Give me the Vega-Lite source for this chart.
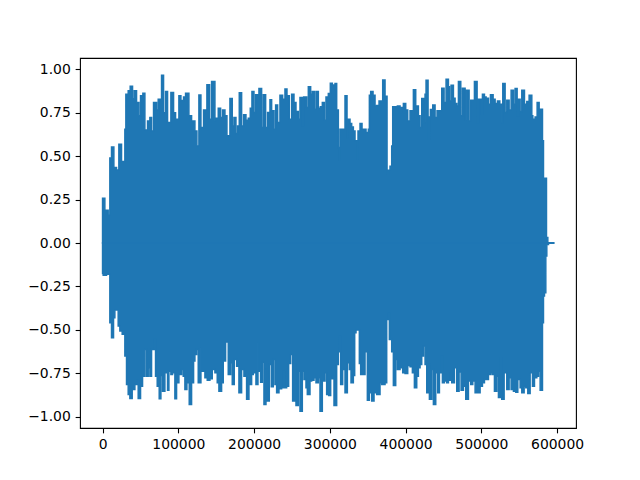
{
  "$schema": "https://vega.github.io/schema/vega-lite/v6.json",
  "autosize": "none",
  "padding": {"left": 80, "top": 58, "right": 64, "bottom": 52},
  "width": 496,
  "height": 370,
  "background": "white",
  "config": {
    "view": {"stroke": "black", "strokeWidth": 1.1},
    "axis": {
      "grid": false,
      "domain": false,
      "ticks": true,
      "tickColor": "black",
      "tickWidth": 1.1,
      "tickSize": 4.86,
      "labelPadding": 4.86,
      "labelFont": "DejaVu Sans",
      "labelFontSize": 13.9,
      "labelColor": "black",
      "title": null
    }
  },
  "datasets": {
    "top": [
      {"x": 0, "v": 0.258}, {"x": 3037, "v": 0.188}, {"x": 7440, "v": 0.16}, {"x": 9642, "v": 0.49}, {"x": 11843, "v": 0.553},
      {"x": 14925, "v": 0.434}, {"x": 18448, "v": 0.42}, {"x": 21530, "v": 0.569}, {"x": 25052, "v": 0.469}, {"x": 29455, "v": 0.655},
      {"x": 30776, "v": 0.857}, {"x": 33858, "v": 0.876}, {"x": 36500, "v": 0.903}, {"x": 39582, "v": 0.83}, {"x": 41784, "v": 0.876},
      {"x": 44866, "v": 0.809}, {"x": 47948, "v": 0.732}, {"x": 50149, "v": 0.847}, {"x": 53231, "v": 0.862}, {"x": 55873, "v": 0.65},
      {"x": 59395, "v": 0.703}, {"x": 62478, "v": 0.722}, {"x": 64679, "v": 0.645}, {"x": 67321, "v": 0.809}, {"x": 71284, "v": 0.765},
      {"x": 73485, "v": 0.828}, {"x": 76127, "v": 0.74}, {"x": 77888, "v": 0.965}, {"x": 80530, "v": 0.75}, {"x": 83172, "v": 0.872},
      {"x": 85813, "v": 0.693}, {"x": 90216, "v": 0.867}, {"x": 93739, "v": 0.75}, {"x": 96381, "v": 0.713}, {"x": 100784, "v": 0.847},
      {"x": 103426, "v": 0.82}, {"x": 106948, "v": 0.84}, {"x": 109590, "v": 0.862}, {"x": 113993, "v": 0.732}, {"x": 117515, "v": 0.703},
      {"x": 121918, "v": 0.645}, {"x": 124560, "v": 0.559}, {"x": 127202, "v": 0.852}, {"x": 129844, "v": 0.665}, {"x": 133366, "v": 0.765},
      {"x": 137769, "v": 0.911}, {"x": 141292, "v": 0.713}, {"x": 143933, "v": 0.93}, {"x": 148336, "v": 0.703}, {"x": 149669, "v": 0.718},
      {"x": 152751, "v": 0.776}, {"x": 155833, "v": 0.722}, {"x": 158475, "v": 0.765}, {"x": 161557, "v": 0.732}, {"x": 164199, "v": 0.617},
      {"x": 168162, "v": 0.832}, {"x": 171244, "v": 0.674}, {"x": 173445, "v": 0.722}, {"x": 176087, "v": 0.63}, {"x": 178288, "v": 0.674},
      {"x": 180490, "v": 0.865}, {"x": 183572, "v": 0.674}, {"x": 186214, "v": 0.738}, {"x": 189296, "v": 0.707}, {"x": 192378, "v": 0.718},
      {"x": 195020, "v": 0.776}, {"x": 197221, "v": 0.872}, {"x": 199863, "v": 0.751}, {"x": 202065, "v": 0.853}, {"x": 206468, "v": 0.89},
      {"x": 209990, "v": 0.665}, {"x": 212192, "v": 0.853}, {"x": 215274, "v": 0.665}, {"x": 217915, "v": 0.751}, {"x": 220998, "v": 0.824},
      {"x": 223199, "v": 0.761}, {"x": 226281, "v": 0.655}, {"x": 228483, "v": 0.795}, {"x": 231124, "v": 0.694}, {"x": 234207, "v": 0.851},
      {"x": 237729, "v": 0.828}, {"x": 240811, "v": 0.886}, {"x": 243453, "v": 0.847}, {"x": 246535, "v": 0.713}, {"x": 249617, "v": 0.857},
      {"x": 252699, "v": 0.809}, {"x": 255341, "v": 0.757}, {"x": 258423, "v": 0.713}, {"x": 260625, "v": 0.838}, {"x": 263707, "v": 0.674},
      {"x": 265468, "v": 0.841}, {"x": 269431, "v": 0.78}, {"x": 271632, "v": 0.899}, {"x": 274714, "v": 0.857}, {"x": 276916, "v": 0.872},
      {"x": 279557, "v": 0.77}, {"x": 281759, "v": 0.872}, {"x": 284841, "v": 0.776}, {"x": 287483, "v": 0.784}, {"x": 290125, "v": 0.809},
      {"x": 292766, "v": 0.707}, {"x": 294968, "v": 0.841}, {"x": 298050, "v": 0.861}, {"x": 300692, "v": 0.92}, {"x": 303334, "v": 0.88},
      {"x": 305095, "v": 0.91}, {"x": 306868, "v": 0.918}, {"x": 309070, "v": 0.765}, {"x": 311271, "v": 0.55}, {"x": 312592, "v": 0.477},
      {"x": 313473, "v": 0.655}, {"x": 320077, "v": 0.847}, {"x": 322719, "v": 0.607}, {"x": 323599, "v": 0.713}, {"x": 326682, "v": 0.688},
      {"x": 328883, "v": 0.668}, {"x": 331085, "v": 0.645}, {"x": 333286, "v": 0.588}, {"x": 336368, "v": 0.482}, {"x": 337249, "v": 0.645},
      {"x": 339891, "v": 0.688}, {"x": 342532, "v": 0.655}, {"x": 347816, "v": 0.636}, {"x": 350898, "v": 0.655}, {"x": 352219, "v": 0.851},
      {"x": 353980, "v": 0.872}, {"x": 357062, "v": 0.851}, {"x": 359704, "v": 0.788}, {"x": 361906, "v": 0.792}, {"x": 364988, "v": 0.818},
      {"x": 368510, "v": 0.809}, {"x": 369831, "v": 0.939}, {"x": 372913, "v": 0.845}, {"x": 375555, "v": 0.396}, {"x": 377316, "v": 0.419},
      {"x": 379518, "v": 0.442}, {"x": 381719, "v": 0.559}, {"x": 383040, "v": 0.784}, {"x": 387443, "v": 0.741}, {"x": 389204, "v": 0.788},
      {"x": 392727, "v": 0.751}, {"x": 394488, "v": 0.78}, {"x": 397130, "v": 0.803}, {"x": 400212, "v": 0.765}, {"x": 402853, "v": 0.703},
      {"x": 405936, "v": 0.761}, {"x": 409018, "v": 0.722}, {"x": 410339, "v": 0.882}, {"x": 413421, "v": 0.788}, {"x": 416943, "v": 0.732},
      {"x": 419145, "v": 0.665}, {"x": 421346, "v": 0.832}, {"x": 423988, "v": 0.694}, {"x": 425749, "v": 0.857}, {"x": 427070, "v": 0.937},
      {"x": 429712, "v": 0.597}, {"x": 431473, "v": 0.726}, {"x": 432794, "v": 0.768}, {"x": 435876, "v": 0.795}, {"x": 438958, "v": 0.722},
      {"x": 441600, "v": 0.761}, {"x": 447764, "v": 0.891}, {"x": 450846, "v": 0.809}, {"x": 453488, "v": 0.943}, {"x": 456570, "v": 0.899},
      {"x": 457891, "v": 0.818}, {"x": 460092, "v": 0.908}, {"x": 463174, "v": 0.834}, {"x": 465376, "v": 0.803}, {"x": 467590, "v": 0.788},
      {"x": 469791, "v": 0.93}, {"x": 472873, "v": 0.732}, {"x": 475075, "v": 0.891}, {"x": 478597, "v": 0.707}, {"x": 479918, "v": 0.88},
      {"x": 483881, "v": 0.703}, {"x": 486082, "v": 0.822}, {"x": 490925, "v": 0.93}, {"x": 494448, "v": 0.694}, {"x": 496209, "v": 0.828},
      {"x": 499732, "v": 0.741}, {"x": 501493, "v": 0.857}, {"x": 504134, "v": 0.841}, {"x": 506336, "v": 0.834}, {"x": 509418, "v": 0.799},
      {"x": 512060, "v": 0.853}, {"x": 515582, "v": 0.828}, {"x": 518224, "v": 0.803}, {"x": 521306, "v": 0.818}, {"x": 524388, "v": 0.799},
      {"x": 527030, "v": 0.694}, {"x": 528351, "v": 0.918}, {"x": 531433, "v": 0.751}, {"x": 533635, "v": 0.822}, {"x": 536717, "v": 0.765},
      {"x": 539358, "v": 0.88}, {"x": 542441, "v": 0.799}, {"x": 544642, "v": 0.89}, {"x": 547284, "v": 0.732}, {"x": 549045, "v": 0.828},
      {"x": 551247, "v": 0.757}, {"x": 553448, "v": 0.88}, {"x": 556970, "v": 0.799}, {"x": 560053, "v": 0.814}, {"x": 563135, "v": 0.851},
      {"x": 566657, "v": 0.732}, {"x": 567978, "v": 0.713}, {"x": 571060, "v": 0.726}, {"x": 573702, "v": 0.809}, {"x": 576344, "v": 0.77},
      {"x": 580747, "v": 0.588}, {"x": 582068, "v": 0.338}, {"x": 583389, "v": 0.373}, {"x": 586031, "v": 0.031}, {"x": 587792, "v": 0.001},
      {"x": 595500, "v": 0.001}
    ],
    "bot": [
      {"x": 0, "v": -0.175}, {"x": 836, "v": -0.186}, {"x": 5239, "v": -0.18}, {"x": 9642, "v": -0.459}, {"x": 11843, "v": -0.546},
      {"x": 14485, "v": -0.43}, {"x": 16246, "v": -0.386}, {"x": 20649, "v": -0.478}, {"x": 22851, "v": -0.507}, {"x": 25933, "v": -0.526},
      {"x": 29455, "v": -0.651}, {"x": 31657, "v": -0.815}, {"x": 33858, "v": -0.872}, {"x": 36060, "v": -0.895}, {"x": 39142, "v": -0.843},
      {"x": 42664, "v": -0.815}, {"x": 45746, "v": -0.79}, {"x": 47067, "v": -0.895}, {"x": 50149, "v": -0.824}, {"x": 52791, "v": -0.767},
      {"x": 55873, "v": -0.613}, {"x": 58075, "v": -0.767}, {"x": 60276, "v": -0.718}, {"x": 62478, "v": -0.767}, {"x": 64679, "v": -0.613},
      {"x": 68201, "v": -0.555}, {"x": 69963, "v": -0.767}, {"x": 72164, "v": -0.824}, {"x": 74806, "v": -0.897}, {"x": 77007, "v": -0.763},
      {"x": 79209, "v": -0.853}, {"x": 82291, "v": -0.747}, {"x": 85813, "v": -0.847}, {"x": 87575, "v": -0.738}, {"x": 90216, "v": -0.757},
      {"x": 92418, "v": -0.747}, {"x": 95500, "v": -0.897}, {"x": 97701, "v": -0.805}, {"x": 100784, "v": -0.757}, {"x": 104306, "v": -0.728},
      {"x": 106508, "v": -0.767}, {"x": 108709, "v": -0.843}, {"x": 111351, "v": -0.805}, {"x": 114433, "v": -0.93}, {"x": 117515, "v": -0.805},
      {"x": 120157, "v": -0.68}, {"x": 121918, "v": -0.642}, {"x": 124120, "v": -0.613}, {"x": 126321, "v": -0.805}, {"x": 129844, "v": -0.603},
      {"x": 131605, "v": -0.738}, {"x": 135127, "v": -0.776}, {"x": 138209, "v": -0.79}, {"x": 141732, "v": -0.782}, {"x": 144814, "v": -0.728},
      {"x": 148336, "v": -0.747}, {"x": 151418, "v": -0.805}, {"x": 153620, "v": -0.853}, {"x": 157142, "v": -0.805}, {"x": 159344, "v": -0.68},
      {"x": 162426, "v": -0.57}, {"x": 165948, "v": -0.757}, {"x": 169030, "v": -0.69}, {"x": 171232, "v": -0.815}, {"x": 173874, "v": -0.67},
      {"x": 176956, "v": -0.709}, {"x": 180038, "v": -0.862}, {"x": 183560, "v": -0.728}, {"x": 186643, "v": -0.767}, {"x": 190165, "v": -0.9},
      {"x": 193247, "v": -0.757}, {"x": 194583, "v": -0.815}, {"x": 196785, "v": -0.757}, {"x": 198986, "v": -0.747}, {"x": 202508, "v": -0.815},
      {"x": 205150, "v": -0.574}, {"x": 206471, "v": -0.738}, {"x": 208673, "v": -0.801}, {"x": 210874, "v": -0.686}, {"x": 213076, "v": -0.93},
      {"x": 215717, "v": -0.728}, {"x": 217479, "v": -0.91}, {"x": 220120, "v": -0.699}, {"x": 222762, "v": -0.828}, {"x": 225404, "v": -0.67},
      {"x": 227606, "v": -0.815}, {"x": 229807, "v": -0.862}, {"x": 232889, "v": -0.839}, {"x": 236412, "v": -0.834}, {"x": 238613, "v": -0.738},
      {"x": 240374, "v": -0.834}, {"x": 243016, "v": -0.824}, {"x": 245658, "v": -0.693}, {"x": 248300, "v": -0.642}, {"x": 250942, "v": -0.91},
      {"x": 253583, "v": -0.699}, {"x": 255345, "v": -0.935}, {"x": 258427, "v": -0.738}, {"x": 260628, "v": -0.968}, {"x": 263710, "v": -0.738},
      {"x": 265912, "v": -0.786}, {"x": 268553, "v": -0.834}, {"x": 270315, "v": -0.872}, {"x": 273837, "v": -0.795}, {"x": 276039, "v": -0.79},
      {"x": 279121, "v": -0.776}, {"x": 281762, "v": -0.805}, {"x": 284845, "v": -0.776}, {"x": 287046, "v": -0.968}, {"x": 290128, "v": -0.795},
      {"x": 293651, "v": -0.747}, {"x": 295852, "v": -0.872}, {"x": 298494, "v": -0.878}, {"x": 301136, "v": -0.782}, {"x": 303777, "v": -0.767},
      {"x": 305539, "v": -0.935}, {"x": 309061, "v": -0.699}, {"x": 311263, "v": -0.626}, {"x": 312583, "v": -0.536}, {"x": 314345, "v": -0.815},
      {"x": 316986, "v": -0.728}, {"x": 320068, "v": -0.862}, {"x": 323151, "v": -0.69}, {"x": 325792, "v": -0.728}, {"x": 327994, "v": -0.805},
      {"x": 331076, "v": -0.763}, {"x": 332837, "v": -0.517}, {"x": 334598, "v": -0.501}, {"x": 339001, "v": -0.693}, {"x": 340763, "v": -0.757},
      {"x": 346487, "v": -0.626}, {"x": 349569, "v": -0.905}, {"x": 352211, "v": -0.862}, {"x": 355293, "v": -0.91}, {"x": 358375, "v": -0.862},
      {"x": 361897, "v": -0.872}, {"x": 366300, "v": -0.805}, {"x": 368502, "v": -0.815}, {"x": 372905, "v": -0.805}, {"x": 375106, "v": -0.44},
      {"x": 376867, "v": -0.405}, {"x": 378629, "v": -0.555}, {"x": 381711, "v": -0.626}, {"x": 383912, "v": -0.82}, {"x": 386994, "v": -0.67},
      {"x": 389196, "v": -0.728}, {"x": 392718, "v": -0.718}, {"x": 396241, "v": -0.747}, {"x": 399338, "v": -0.751}, {"x": 402860, "v": -0.705},
      {"x": 405943, "v": -0.713}, {"x": 409025, "v": -0.747}, {"x": 411666, "v": -0.834}, {"x": 414749, "v": -0.767}, {"x": 416950, "v": -0.718},
      {"x": 419152, "v": -0.699}, {"x": 421353, "v": -0.651}, {"x": 423555, "v": -0.593}, {"x": 425756, "v": -0.699}, {"x": 427958, "v": -0.862},
      {"x": 430159, "v": -0.699}, {"x": 431480, "v": -0.9}, {"x": 434562, "v": -0.728}, {"x": 436764, "v": -0.93}, {"x": 439846, "v": -0.747},
      {"x": 442487, "v": -0.862}, {"x": 444689, "v": -0.747}, {"x": 446890, "v": -0.651}, {"x": 448652, "v": -0.805}, {"x": 451293, "v": -0.795},
      {"x": 454376, "v": -0.805}, {"x": 456577, "v": -0.79}, {"x": 459219, "v": -0.747}, {"x": 460980, "v": -0.805}, {"x": 464502, "v": -0.718},
      {"x": 467585, "v": -0.853}, {"x": 470667, "v": -0.743}, {"x": 473308, "v": -0.847}, {"x": 476391, "v": -0.824}, {"x": 479473, "v": -0.9},
      {"x": 482995, "v": -0.795}, {"x": 486077, "v": -0.815}, {"x": 488719, "v": -0.795}, {"x": 491801, "v": -0.862}, {"x": 498406, "v": -0.824},
      {"x": 501488, "v": -0.805}, {"x": 504129, "v": -0.786}, {"x": 509413, "v": -0.757}, {"x": 512495, "v": -0.747}, {"x": 514697, "v": -0.757},
      {"x": 517338, "v": -0.853}, {"x": 520421, "v": -0.767}, {"x": 522622, "v": -0.89}, {"x": 525264, "v": -0.661}, {"x": 527025, "v": -0.9},
      {"x": 530107, "v": -0.747}, {"x": 533630, "v": -0.843}, {"x": 536712, "v": -0.776}, {"x": 539354, "v": -0.843}, {"x": 542436, "v": -0.853},
      {"x": 545518, "v": -0.859}, {"x": 548160, "v": -0.786}, {"x": 551242, "v": -0.834}, {"x": 553443, "v": -0.862}, {"x": 556525, "v": -0.824},
      {"x": 558727, "v": -0.834}, {"x": 561369, "v": -0.866}, {"x": 564451, "v": -0.747}, {"x": 567533, "v": -0.824}, {"x": 570175, "v": -0.776},
      {"x": 573257, "v": -0.767}, {"x": 575458, "v": -0.738}, {"x": 577660, "v": -0.847}, {"x": 580742, "v": -0.459}, {"x": 582063, "v": -0.305},
      {"x": 583384, "v": -0.286}, {"x": 585145, "v": -0.075}, {"x": 586466, "v": -0.008}, {"x": 588668, "v": -0.001}, {"x": 595500, "v": -0.001}
    ]
  },
  "layer": [
    {
      "data": {"name": "top"},
      "mark": {"type": "area", "interpolate": "step-after", "color": "#1f77b4", "opacity": 1, "stroke": "#1f77b4", "strokeWidth": 1.5, "strokeJoin": "miter", "clip": true},
      "encoding": {
        "x": {"field": "x", "type": "quantitative", "scale": {"domain": [-29770, 625000], "nice": false, "zero": false},
              "axis": {"values": [0, 100000, 200000, 300000, 400000, 500000, 600000], "format": "d"}},
        "y": {"field": "v", "type": "quantitative", "scale": {"domain": [-1.065, 1.065], "nice": false, "zero": false},
              "axis": {"values": [-1, -0.75, -0.5, -0.25, 0, 0.25, 0.5, 0.75, 1], "format": ".2f"}},
        "y2": {"datum": 0}
      }
    },
    {
      "data": {"name": "bot"},
      "mark": {"type": "area", "interpolate": "step-after", "color": "#1f77b4", "opacity": 1, "stroke": "#1f77b4", "strokeWidth": 1.5, "strokeJoin": "miter", "clip": true},
      "encoding": {
        "x": {"field": "x", "type": "quantitative"},
        "y": {"field": "v", "type": "quantitative"},
        "y2": {"datum": 0}
      }
    }
  ]
}
